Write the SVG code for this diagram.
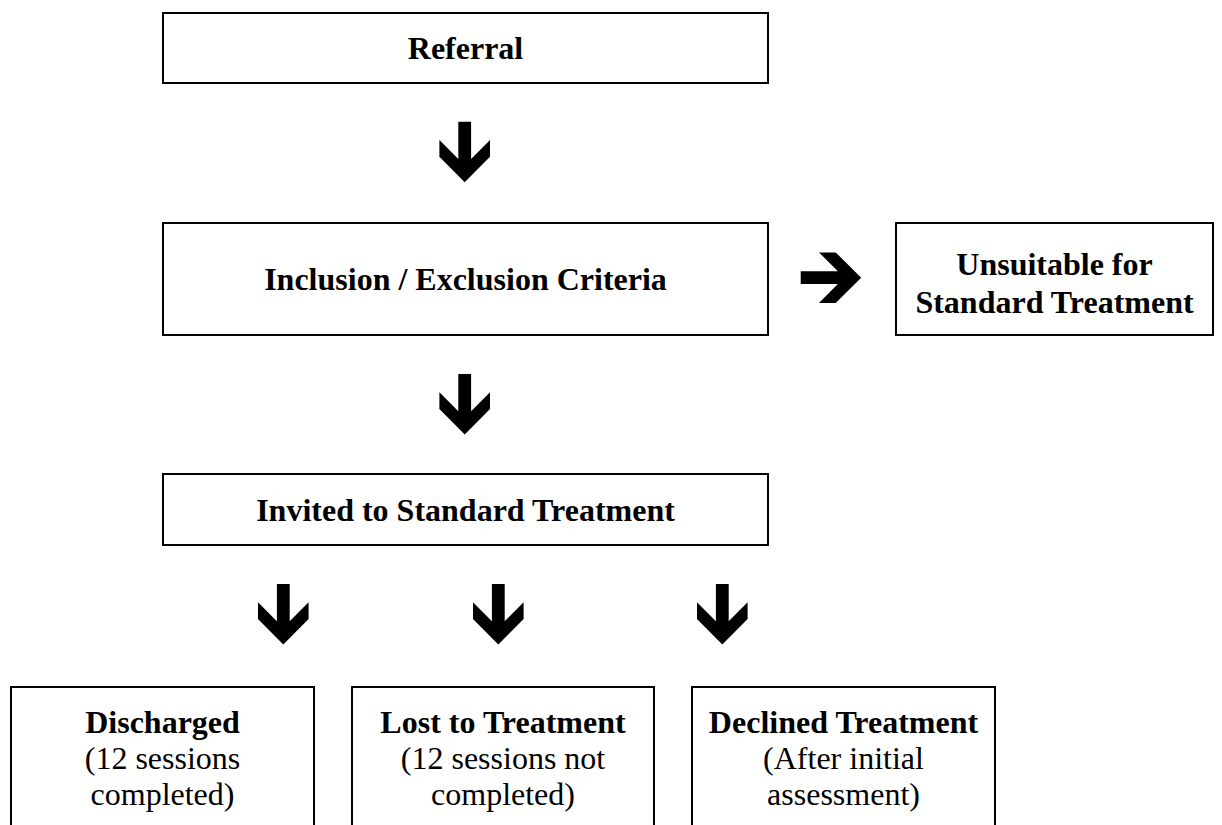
<svg xmlns="http://www.w3.org/2000/svg" xmlns:xlink="http://www.w3.org/1999/xlink" width="1222" height="825" viewBox="0 0 1222 825">
  <style>
    .box { fill: #ffffff; stroke: #000000; stroke-width: 2; }
    .t { font-family: "Liberation Serif", "Times New Roman", serif; font-size: 32px; fill: #000000; text-anchor: middle; }
    .b { font-weight: bold; }
    .arrow { fill: #000000; }
  </style>
  <defs>
    <!-- block arrow pointing down, origin at top centre of the shaft -->
    <path id="down" d="M-6.4,0 H6.4 V37.2 L25.3,18.3 V35 L0,60.5 L-25.3,35 V18.3 L-6.4,37.2 Z"/>
  </defs>
  <rect width="1222" height="825" fill="#ffffff"/>

  <g id="connectors" class="arrow">
    <use xlink:href="#down" transform="translate(464.7,121.7)"/>
    <use xlink:href="#down" transform="translate(464.7,374)"/>
    <use xlink:href="#down" transform="translate(800.7,277.7) rotate(-90)"/>
    <use xlink:href="#down" transform="translate(283.3,584)"/>
    <use xlink:href="#down" transform="translate(498.3,584)"/>
    <use xlink:href="#down" transform="translate(722.3,584)"/>
  </g>

  <g id="referral">
    <rect class="box" x="163" y="13" width="605" height="70"/>
    <text class="t b" x="465.5" y="59">Referral</text>
  </g>

  <g id="criteria">
    <rect class="box" x="163" y="223" width="605" height="112"/>
    <text class="t b" x="465.5" y="290">Inclusion / Exclusion Criteria</text>
  </g>

  <g id="unsuitable">
    <rect class="box" x="896" y="223" width="317" height="112"/>
    <text class="t b" x="1054.5" y="275">Unsuitable for</text>
    <text class="t b" x="1054.5" y="313">Standard Treatment</text>
  </g>

  <g id="invited">
    <rect class="box" x="163" y="474" width="605" height="71"/>
    <text class="t b" x="465.5" y="521">Invited to Standard Treatment</text>
  </g>

  <g id="discharged">
    <path class="box" d="M11,830 V687 H314 V830"/>
    <text class="t b" x="162.5" y="733">Discharged</text>
    <text class="t" x="162.5" y="769">(12 sessions</text>
    <text class="t" x="162.5" y="805">completed)</text>
  </g>

  <g id="lost">
    <path class="box" d="M352,830 V687 H654 V830"/>
    <text class="t b" x="503" y="733">Lost to Treatment</text>
    <text class="t" x="503" y="769">(12 sessions not</text>
    <text class="t" x="503" y="805">completed)</text>
  </g>

  <g id="declined">
    <path class="box" d="M692,830 V687 H995 V830"/>
    <text class="t b" x="843.5" y="733">Declined Treatment</text>
    <text class="t" x="843.5" y="769">(After initial</text>
    <text class="t" x="843.5" y="805">assessment)</text>
  </g>
</svg>
